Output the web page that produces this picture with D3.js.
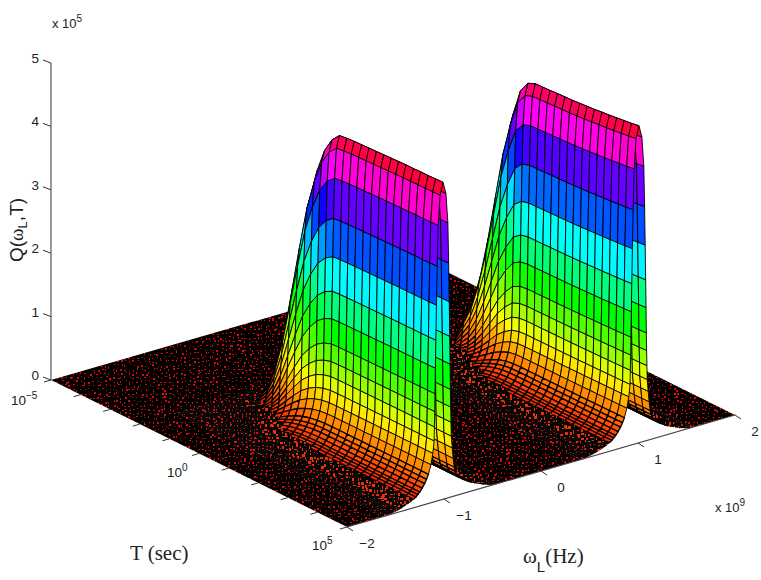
<!DOCTYPE html>
<html>
<head>
<meta charset="utf-8">
<script src="https://d3js.org/d3.v7.min.js"></script>
<style>
html, body { margin: 0; background: #fff; }
svg { display: block; }
text { fill: #222; }
</style>
</head>
<body>
<script>
// values
var zTicks = [0, 1, 2, 3, 4, 5];
var wTicks = [-2, -1, 0, 1, 2];
var tTicks = [1e-5, 1e-4, 1e-3, 1e-2, 1e-1, 1, 1e1, 1e2, 1e3, 1e4, 1e5];
var tLabelled = [1e-5, 1, 1e5];
var ridgeCentres = [-1.01, 1.01];

// log10(T) of the mesh columns over the ridges
var logTGrid = [-2, -1.75, -1.5, -1.25, -1, -0.75, -0.5, -0.25, 0, 0.25, 0.5, 0.75, 1, 1.25, 1.5,
    1.75, 2, 2.25, 2.5, 2.75, 3, 3.25, 3.5, 3.75, 4, 4.25, 4.5, 4.75, 5];
// how far each ridge has grown at those T
var growthLeft = [0, 0.005, 0.014, 0.03, 0.06, 0.105, 0.185, 0.3, 0.45, 0.6, 0.74, 0.84, 0.915, 0.96, 0.985,
    0.988, 0.99, 0.991, 0.992, 0.993, 0.994, 0.995, 0.996, 0.997, 0.997, 0.998, 0.998, 0.999, 1];
var growthRight = [0, 0.005, 0.016, 0.035, 0.075, 0.135, 0.2, 0.3, 0.43, 0.58, 0.73, 0.84, 0.925, 0.96, 0.97,
    0.971, 0.972, 0.974, 0.975, 0.976, 0.978, 0.98, 0.982, 0.985, 0.987, 0.99, 0.993, 0.996, 1];

// the flanks of a ridge at T = 1e5: distance from the crest on either side and Q there
var flankQ = [5, 4.81, 4.34, 3.7, 3.09, 2.54, 2.1, 1.7, 1.42, 1.18, 0.96, 0.77, 0.6, 0.46, 0.39, 0.33,
    0.27, 0.22, 0.19, 0.16, 0.135, 0.11, 0.095, 0.08, 0.065, 0.05, 0.042, 0.035, 0.027, 0.02, 0.014, 0.01, 0.005, 0];
var nearOffset = [0, 0.03, 0.05, 0.06, 0.068, 0.074, 0.079, 0.083, 0.086, 0.089, 0.092, 0.105, 0.125, 0.15, 0.17, 0.19,
    0.215, 0.24, 0.26, 0.28, 0.305, 0.33, 0.355, 0.38, 0.405, 0.43, 0.45, 0.47, 0.49, 0.51, 0.53, 0.55, 0.575, 0.6];
var farOffset = [0, 0.03, 0.05, 0.058, 0.064, 0.069, 0.073, 0.076, 0.079, 0.082, 0.085, 0.095, 0.105, 0.115, 0.125, 0.14,
    0.17, 0.21, 0.24, 0.27, 0.3, 0.33, 0.36, 0.38, 0.4, 0.42, 0.44, 0.46, 0.47, 0.49, 0.5, 0.51, 0.53, 0.55];

var width = 761, height = 580;
var svg = d3.select("body").append("svg").attr("width", width).attr("height", height);

// axis box as it lies on the page
var origin = [51, 380];
var tScale = d3.scaleLog().domain([1e-5, 1e5]).range([0, 1]);
var wScale = d3.scaleLinear().domain([-2, 2]).range([0, 1]);
var zScale = d3.scaleLinear().domain([0, 5]).range([0, 317]);
var hueScale = d3.scaleLinear().domain([0, 5]).range([0, 360]);

function project(logT, w, z) {
    var f = tScale(Math.pow(10, logT));
    var g = wScale(w);
    return [origin[0] + 296 * f + 388 * g, origin[1] + 147 * f - 112 * g - zScale(z)];
}
var poly = d3.line();

// texture for the flat parts: black mesh lines so tight that only flecks of colour get through
function fract(v) { return v - Math.floor(v); }
function hash(a, b) { return fract(Math.sin(a * 127.1 + b * 311.7) * 43758.5453); }
function addTexture(defs, id, step, size, colour) {
    var tile = 64 * step, flecks = "";
    for (var ix = 0; ix < 64; ix++) {
        for (var iy = 0; iy < 64; iy++) {
            var x = ix * step + Math.floor(hash(ix, iy) * (step - 1));
            var y = iy * step + Math.floor(hash(iy + 91, ix + 17) * (step - 1));
            var w = 1 + Math.floor(hash(ix + 37, iy + 5) * size);
            var h = 1 + Math.floor(hash(ix + 3, iy + 59) * size);
            flecks += "M" + x + " " + y + "h" + w + "v" + h + "h" + (-w) + "z";
        }
    }
    var p = defs.append("pattern").attr("id", id)
        .attr("patternUnits", "userSpaceOnUse").attr("width", tile).attr("height", tile);
    p.append("rect").attr("width", tile).attr("height", tile).attr("fill", "#000");
    p.append("path").attr("d", flecks).attr("fill", colour);
}
var defs = svg.append("defs");
addTexture(defs, "speckle", 4, 1.7, "#d80808");
addTexture(defs, "speckleWarm", 4, 2.6, "#f02800");

// floor, with the feet of the ridges cut out so the gap under them stays white
function rectPath(t0, t1, w0, w1) {
    return "M" + [project(t0, w0, 0), project(t0, w1, 0), project(t1, w1, 0), project(t1, w0, 0)].join("L") + "Z";
}
var feet = ridgeCentres.map(c => rectPath(-2, 5, c - d3.max(nearOffset), c + d3.max(farOffset)));
svg.append("path")
    .attr("fill-rule", "evenodd")
    .attr("fill", "url(#speckle)")
    .attr("d", rectPath(-5, 5, -2, 2) + feet.join(""));

// ridge rows, back to front
function ridgeRows(centre, growth) {
    var near = nearOffset.map((d, i) => ({ w: centre - d, q: flankQ[i], growth: growth }));
    var far = farOffset.slice(1).map((d, i) => ({ w: centre + d, q: flankQ[i + 1], growth: growth }));
    return far.reverse().concat(near);
}
var cells = [];
[[ridgeCentres[1], growthRight], [ridgeCentres[0], growthLeft]].forEach(function(r) {
    var rows = ridgeRows(r[0], r[1]);
    for (var i = 0; i < rows.length - 1; i++) {
        for (var j = 0; j < logTGrid.length - 1; j++) {
            var a = rows[i], b = rows[i + 1];
            var z = [a.q * a.growth[j], a.q * a.growth[j + 1], b.q * b.growth[j + 1], b.q * b.growth[j]];
            cells.push({
                pts: [project(logTGrid[j], a.w, z[0]), project(logTGrid[j + 1], a.w, z[1]),
                    project(logTGrid[j + 1], b.w, z[2]), project(logTGrid[j], b.w, z[3])],
                q: d3.min(z)
            });
        }
    }
});
var flatQ = 0.04, warmQ = 0.13;
function cellFill(d) {
    return d.q < flatQ ? "url(#speckle)" : d.q < warmQ ? "url(#speckleWarm)" : d3.hsl(hueScale(d.q), 1, 0.5);
}
svg.append("g").selectAll("path").data(cells).join("path")
    .attr("d", d => poly(d.pts) + "Z")
    .attr("fill", cellFill)
    .attr("stroke", d => d.q < warmQ ? cellFill(d) : "#000")
    .attr("stroke-width", d => d.q < warmQ ? 0.6 : d.q < 0.4 ? 1.3 : 0.9)
    .attr("stroke-linejoin", "round");

// axes
var axes = svg.append("g").attr("fill", "none");
axes.append("path").attr("d", poly([project(-5, -2, 0), project(-5, -2, 5)]))
    .attr("stroke", "#808080").attr("stroke-width", 1.6);
axes.append("path").attr("d", poly([project(5, -2, 0), project(5, 2, 0)]))
    .attr("stroke", "#444").attr("stroke-width", 1.2);

axes.selectAll(".ztick").data(zTicks).join("path").attr("class", "ztick")
    .attr("stroke", "#333")
    .attr("d", d => {
        var p = project(-5, -2, d);
        return poly([p, [p[0] - 8, p[1] - 3]]);
    });
axes.selectAll(".wtick").data(wTicks).join("path").attr("class", "wtick")
    .attr("stroke", "#333")
    .attr("d", d => {
        var p = project(5, d, 0);
        return poly([p, [p[0] + 6, p[1] + 4]]);
    });
axes.selectAll(".ttick").data(tTicks).join("path").attr("class", "ttick")
    .attr("stroke", "#333")
    .attr("d", d => {
        var p = project(Math.log10(d), -2, 0);
        return poly([p, [p[0] - 7, p[1] + 2]]);
    });

var labels = svg.append("g").attr("font-family", "'Liberation Sans', sans-serif").attr("font-size", 13.5);
labels.selectAll(".zl").data(zTicks).join("text").attr("class", "zl")
    .attr("text-anchor", "end")
    .attr("x", d => project(-5, -2, d)[0] - 12)
    .attr("y", d => project(-5, -2, d)[1])
    .text(d => d);
labels.selectAll(".wl").data(wTicks).join("text").attr("class", "wl")
    .attr("text-anchor", "middle")
    .attr("x", d => project(5, d, 0)[0] + 20)
    .attr("y", d => project(5, d, 0)[1] + 21)
    .text(d => d < 0 ? "\u2212" + Math.abs(d) : d);

var tl = labels.selectAll(".tl").data(tLabelled).join("text").attr("class", "tl")
    .attr("x", d => project(Math.log10(d), -2, 0)[0] + (d < 1 ? -40 : d > 1 ? -35 : -32))
    .attr("y", d => project(Math.log10(d), -2, 0)[1] + (d < 1 ? 25 : 23));
tl.append("tspan").text("10");
tl.append("tspan").attr("dy", -6).attr("font-size", 10)
    .text(d => { var e = Math.log10(d); return e < 0 ? "\u2212" + Math.abs(e) : e; });

function scaleNote(x, y, power) {
    var t = labels.append("text").attr("x", x).attr("y", y).attr("font-size", 13);
    t.append("tspan").text("x 10");
    t.append("tspan").attr("dy", -6).attr("font-size", 10).text(power);
}
scaleNote(52, 28, "5");
scaleNote(715, 512, "9");

// axis titles
var zt = svg.append("text").attr("transform", "translate(23,262) rotate(-90)")
    .attr("font-family", "'Liberation Sans', sans-serif").attr("font-size", 19);
zt.append("tspan").text("Q(");
zt.append("tspan").attr("font-family", "'Liberation Serif', serif").text("\u03c9");
zt.append("tspan").attr("dy", 4).attr("font-size", 13).text("L");
zt.append("tspan").attr("dy", -4).text(",T)");

svg.append("text").attr("x", 130).attr("y", 560)
    .attr("font-family", "'Liberation Serif', serif").attr("font-size", 21).text("T (sec)");
var wt = svg.append("text").attr("x", 523).attr("y", 563)
    .attr("font-family", "'Liberation Serif', serif").attr("font-size", 21);
wt.append("tspan").text("\u03c9");
wt.append("tspan").attr("dy", 9).attr("font-family", "'Liberation Sans', sans-serif").attr("font-size", 15).text("L");
wt.append("tspan").attr("dy", -9).text("(Hz)");
</script>
</body>
</html>
